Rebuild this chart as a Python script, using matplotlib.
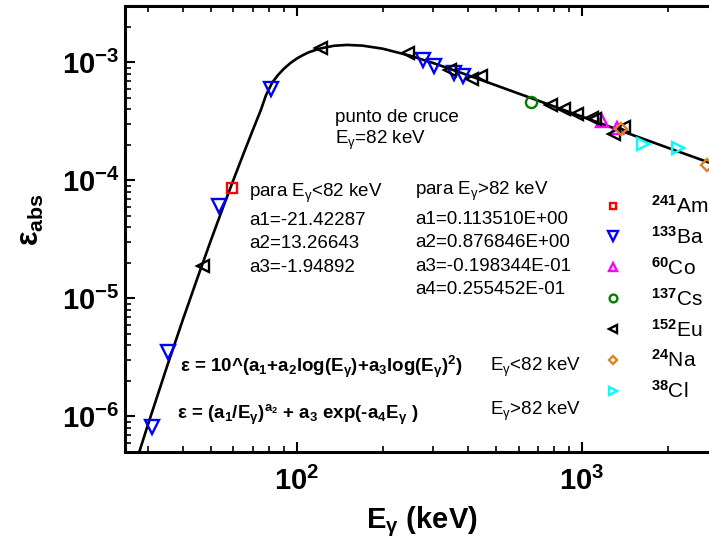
"""Absolute efficiency vs gamma energy, log-log, with fitted curve and sources."""

import matplotlib
matplotlib.use("Agg")
import matplotlib.pyplot as plt
import matplotlib.ticker as mticker
from matplotlib.lines import Line2D
import numpy as np

matplotlib.rcParams.update({
    "font.family": ["Liberation Sans", "DejaVu Sans"],
    "mathtext.fontset": "custom",
    "mathtext.rm": "Liberation Sans",
    "mathtext.it": "Liberation Sans:italic",
    "mathtext.bf": "Liberation Sans:bold",
})

# ---------------------------------------------------------------------------
# Data
# ---------------------------------------------------------------------------

# fitted efficiency curve
curve_E = [27, 30, 35, 40, 45, 50, 55, 60, 65, 70, 75, 78, 82, 86, 90, 95, 100,
           105, 110, 120, 135, 150, 170, 200, 250, 300, 400, 500, 700, 1000,
           1500, 2000, 3000]
curve_eps = [3.74e-7, 8.34e-7, 2.60e-6, 6.74e-6, 1.52e-5, 3.10e-5, 5.79e-5,
             1.01e-4, 1.67e-4, 2.63e-4, 3.99e-4, 5.26e-4, 6.72e-4, 7.81e-4,
             8.79e-4, 9.85e-4, 1.075e-3, 1.149e-3, 1.213e-3, 1.305e-3,
             1.381e-3, 1.404e-3, 1.385e-3, 1.305e-3, 1.138e-3, 9.89e-4,
             7.75e-4, 6.38e-4, 4.75e-4, 3.47e-4, 2.43e-4, 1.89e-4, 1.33e-4]

am_E = [59.5]
am_eps = [8.55e-5]

ba_E = [31.0, 35.3, 53.2, 81.0, 276.4, 302.9, 356.0, 383.8]
ba_eps = [8.1e-7, 3.5e-6, 6.1e-5, 6.0e-4, 1.04e-3, 9.3e-4, 8.1e-4, 7.6e-4]

co_E = [1173.2, 1332.5]
co_eps = [3.18e-4, 2.78e-4]

cs_E = [661.7]
cs_eps = [4.6e-4]

eu_E = [46.8, 121.8, 244.7, 344.3, 411.1, 444.0, 778.9, 867.4, 964.1,
        1085.8, 1112.1, 1299.1, 1408.0]
eu_eps = [1.87e-5, 1.32e-3, 1.19e-3, 8.6e-4, 7.2e-4, 7.7e-4, 4.32e-4,
          4.0e-4, 3.62e-4, 3.38e-4, 3.29e-4, 2.45e-4, 2.81e-4]

na_E = [1368.6, 2754.0]
na_eps = [2.72e-4, 1.36e-4]

cl_E = [1642.7, 2167.4]
cl_eps = [2.03e-4, 1.87e-4]

sources = [
    (r"$^{\mathbf{241}}$Am", am_E, am_eps, "s", "#FF0000", 7),
    (r"$^{\mathbf{133}}$Ba", ba_E, ba_eps, "v", "#0000FF", 10),
    (r"$^{\mathbf{60}}$Co", co_E, co_eps, "^", "#FF00FF", 9),
    (r"$^{\mathbf{137}}$Cs", cs_E, cs_eps, "o", "#008000", 8),
    (r"$^{\mathbf{152}}$Eu", eu_E, eu_eps, "<", "#000000", 9),
    (r"$^{\mathbf{24}}$Na", na_E, na_eps, "D", "#DD8420", 6.5),
    (r"$^{\mathbf{38}}$Cl", cl_E, cl_eps, ">", "#00FFFF", 9),
]

# ---------------------------------------------------------------------------
# Figure
# ---------------------------------------------------------------------------

W, H = 709, 541
fig = plt.figure(figsize=(W / 100, H / 100), dpi=100)
ax = fig.add_axes([125 / W, 89 / H, 593 / W, 446 / H])


def px(x, y):
    return x / W, 1 - y / H


ax.plot(curve_E, curve_eps, color="black", lw=1.9, zorder=2)

handles = []
for label, xs, ys, mk, col, ms in sources:
    ax.plot(xs, ys, ls="none", marker=mk, ms=ms, mfc="none", mec=col,
            mew=1.7, zorder=3)
    handles.append(Line2D([], [], ls="none", marker=mk, ms=ms * 0.7,
                          mfc="none", mec=col, mew=1.7, label=label))

ax.set_xscale("log")
ax.set_yscale("log")
ax.set_xlim(25, 3000)
ax.set_ylim(5e-7, 3e-3)


def pow_fmt(v, pos):
    e = int(round(np.log10(v)))
    return r"$\mathbf{10^{%d}}$" % e


for axis in (ax.xaxis, ax.yaxis):
    axis.set_major_formatter(mticker.FuncFormatter(pow_fmt))
    axis.set_minor_formatter(mticker.NullFormatter())

ax.tick_params(which="both", direction="in", top=True, right=False,
               labelsize=21)
ax.tick_params(which="major", length=7, width=1.5)
ax.tick_params(which="minor", length=4, width=1.2)
ax.tick_params(axis="y", which="major", pad=4)
ax.tick_params(axis="x", which="major", pad=11)

for s in ax.spines.values():
    s.set_linewidth(2.2)

ax.set_xlabel(r"E$_\mathregular{γ}$ (keV)", fontsize=21, fontweight="bold",
              labelpad=6)
ax.set_ylabel(r"ε$_\mathbf{abs}$", fontsize=22, fontweight="bold")
ax.yaxis.set_label_coords(-0.133, 0.52)

ax.legend(handles=handles, loc="upper left",
          bbox_to_anchor=px(603, 195), bbox_transform=fig.transFigure,
          frameon=False, borderpad=0, borderaxespad=0, handlelength=1.0,
          handletextpad=1.3, labelspacing=0.43, fontsize=15, numpoints=1)

# annotations
note = dict(fontsize=13.5, va="baseline", ha="left")
fig.text(*px(335, 122), "punto de cruce", **note)
fig.text(*px(335, 144), r"E$_\mathregular{γ}$=82 keV", **note)

fig.text(*px(249, 197), r"para E$_\mathregular{γ}$<82 keV", **note)
for i, s in enumerate(["a1=-21.42287", "a2=13.26643", "a3=-1.94892"]):
    fig.text(*px(249, 225 + 23.5 * i), s, **note)

fig.text(*px(415, 195), r"para E$_\mathregular{γ}$>82 keV", **note)
for i, s in enumerate(["a1=0.113510E+00", "a2=0.876846E+00",
                       "a3=-0.198344E-01", "a4=0.255452E-01"]):
    fig.text(*px(415, 224 + 23.3 * i), s, **note)

bold = dict(fontsize=13.5, va="baseline", ha="left", fontweight="bold")
fig.text(*px(180, 372),
         r"$\mathregular{ε}$ = 10^(a$_\mathbf{1}$+a$_\mathbf{2}$log(E$_\mathregular{γ}$)"
         r"+a$_\mathbf{3}$log(E$_\mathregular{γ}$)$^\mathbf{2}$)", **bold)
fig.text(*px(177, 419),
         r"$\mathregular{ε}$ = (a$_\mathbf{1}$/E$_\mathregular{γ}$)$^{\mathbf{a}_\mathbf{2}}$"
         r" + a$_\mathbf{3}$ exp(-a$_\mathbf{4}$E$_\mathregular{γ}$ )", **bold)
fig.text(*px(490, 371), r"E$_\mathregular{γ}$<82 keV", **note)
fig.text(*px(490, 415), r"E$_\mathregular{γ}$>82 keV", **note)

fig.savefig("out.png", dpi=100)
